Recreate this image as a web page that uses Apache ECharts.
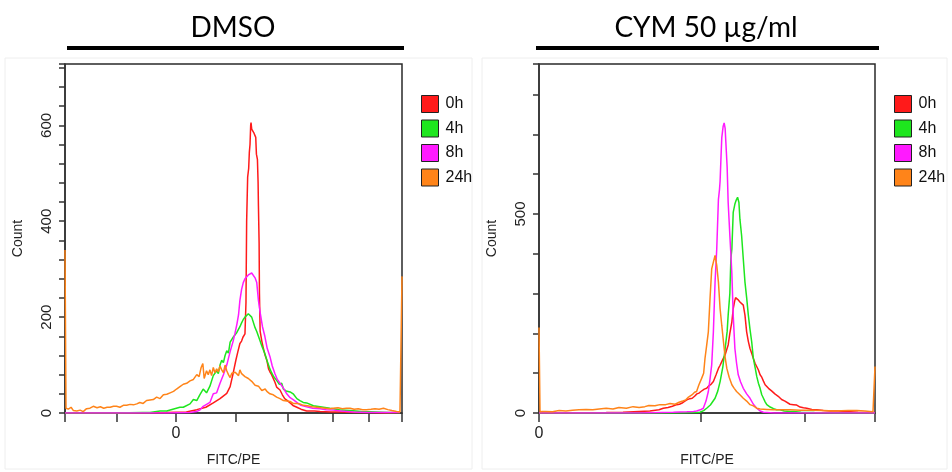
<!DOCTYPE html>
<html><head><meta charset="utf-8">
<script src="https://cdn.jsdelivr.net/npm/echarts@6/dist/echarts.min.js"></script>
<style>html,body{margin:0;padding:0;background:#fff}#c{width:952px;height:472px}</style>
</head><body><div id="c"></div><script>
const seriesNames = ['0h', '4h', '8h', '24h'];
const seriesColors = ['#ff1a1a', '#1ee61e', '#ff1aff', '#ff8419'];
const panelTitles = ['DMSO', 'CYM 50 µg/ml'];
const xAxisName = 'FITC/PE';
const yAxisName = 'Count';
const yMaxL = 728, yTickStepL = 40, yLabelStepL = 200;
const yMaxR = 877, yTickStepR = 100, yLabelStepR = 500;
const xTicksL = [0, 154, 329, 507, 662, 795, 902, 1000];
const xTicksR = [0, 482, 792, 1000];
const xZeroL = [329];
const xZeroR = [0];

// DMSO panel: [channel, count]
const dmso0h = [[0,0],[100,0],[200,0],[300,1],[360,2],[391,7],[418,12],[440,21],[460,30],[480,41],[490,55],[499,83],[507,110],[513,128],[519,145],[524,150],[528,158],[534,165],[537,230],[539,400],[542,492],[545,510],[547,544],[549,560],[551,600],[552,606],[554,592],[556,596],[560,585],[566,575],[568,540],[571,529],[573,480],[574,432],[576,354],[577,250],[579,171],[584,150],[588,137],[594,120],[599,110],[604,92],[608,86],[613,80],[618,76],[623,64],[628,54],[633,50],[638,48],[645,38],[652,30],[658,27],[663,23],[668,21],[678,15],[688,12],[700,8],[717,4],[740,4],[757,3],[790,2],[816,2],[860,1],[905,1],[950,0],[994,1]];
const dmso4h = [[0,0],[150,0],[230,1],[252,1],[282,4],[302,4],[320,8],[341,12],[351,12],[371,19],[381,28],[391,26],[400,38],[410,50],[420,42],[430,56],[440,78],[450,88],[455,82],[460,100],[465,110],[470,105],[475,120],[480,130],[485,125],[490,148],[495,152],[499,158],[504,160],[510,168],[515,172],[519,180],[524,188],[529,195],[534,200],[539,204],[544,207],[549,205],[554,200],[559,198],[564,178],[569,170],[574,160],[579,150],[584,140],[588,136],[594,122],[599,110],[604,100],[608,92],[613,84],[620,75],[628,68],[636,60],[643,62],[648,50],[656,46],[668,44],[677,40],[688,30],[697,26],[707,22],[717,21],[737,15],[757,13],[786,10],[796,9],[820,6],[846,5],[880,3],[920,2],[960,1],[994,1]];
const dmso8h = [[0,0],[300,0],[370,1],[390,3],[400,6],[410,14],[420,18],[430,22],[440,40],[450,42],[460,62],[470,80],[480,100],[490,128],[499,150],[504,165],[510,185],[515,205],[519,235],[524,258],[529,272],[534,280],[539,276],[544,288],[549,284],[554,292],[559,290],[564,282],[569,272],[574,235],[579,210],[586,180],[593,160],[600,135],[608,118],[615,98],[623,82],[630,70],[638,62],[648,52],[658,40],[668,32],[677,28],[688,22],[700,16],[717,13],[735,10],[757,9],[775,7],[796,6],[820,4],[855,2],[900,1],[994,1]];
const dmso24h = [[0,340],[3,10],[10,8],[18,12],[25,5],[35,4],[45,6],[54,3],[64,9],[74,10],[84,14],[95,11],[105,13],[115,10],[125,12],[134,12],[144,14],[153,14],[163,12],[173,16],[183,16],[193,18],[203,17],[213,19],[222,22],[232,20],[242,26],[252,27],[262,28],[272,33],[282,30],[292,38],[302,39],[312,42],[322,45],[331,50],[341,55],[351,60],[361,62],[371,67],[381,70],[391,80],[398,76],[404,95],[409,103],[413,72],[420,88],[425,80],[430,90],[435,78],[440,95],[445,84],[450,92],[455,86],[460,98],[465,90],[470,84],[475,100],[480,88],[485,80],[490,74],[495,83],[499,80],[505,85],[510,88],[515,78],[519,90],[524,82],[529,80],[534,76],[539,78],[544,72],[549,70],[554,66],[559,62],[564,58],[569,55],[574,56],[579,52],[584,47],[588,46],[594,50],[599,45],[604,42],[608,40],[613,42],[618,38],[623,35],[628,33],[633,31],[638,30],[643,28],[648,26],[658,25],[668,24],[677,20],[688,20],[697,19],[707,16],[720,15],[734,13],[747,12],[760,11],[773,10],[786,9],[796,10],[810,11],[823,9],[835,10],[846,10],[858,8],[870,9],[883,7],[895,7],[908,8],[920,9],[932,8],[945,10],[958,7],[970,5],[984,3],[994,2],[1000,285]];

// CYM 50 µg/ml panel: [channel, count]
const cym0h = [[0,0],[200,1],[250,2],[298,4],[330,5],[357,8],[370,12],[384,14],[397,17],[410,21],[418,22],[426,25],[433,29],[440,33],[449,36],[456,37],[463,42],[470,48],[476,50],[482,54],[486,58],[492,60],[499,62],[505,68],[512,72],[519,79],[527,96],[534,112],[539,120],[544,129],[549,138],[554,146],[559,160],[563,171],[568,200],[574,229],[578,262],[582,280],[585,290],[588,292],[592,285],[595,288],[598,279],[603,275],[608,271],[613,246],[618,204],[623,180],[628,162],[633,150],[638,137],[643,125],[648,121],[653,108],[658,96],[663,90],[668,80],[673,71],[678,68],[683,62],[688,62],[693,55],[697,52],[702,48],[707,44],[712,42],[717,40],[722,34],[727,29],[732,30],[737,26],[747,22],[757,21],[767,20],[777,15],[787,13],[797,12],[812,9],[827,8],[846,6],[866,5],[890,5],[916,4],[950,2],[980,1],[1000,1]];
const cym4h = [[0,0],[400,0],[470,1],[479,2],[490,6],[499,12],[510,20],[524,37],[532,55],[539,79],[547,115],[554,162],[560,205],[563,246],[568,300],[571,387],[574,412],[578,504],[583,525],[587,535],[591,542],[595,529],[598,487],[603,446],[608,387],[613,329],[618,290],[623,246],[628,210],[633,179],[638,137],[643,115],[648,92],[653,75],[658,62],[663,46],[668,37],[673,28],[678,21],[688,15],[698,11],[707,8],[717,8],[730,5],[747,4],[757,4],[780,2],[820,1],[880,0],[1000,0]];
const cym8h = [[0,0],[300,0],[400,2],[440,3],[460,4],[469,5],[480,8],[489,12],[497,30],[504,54],[509,85],[514,121],[519,204],[524,329],[529,412],[534,537],[537,560],[539,583],[542,650],[544,692],[548,720],[551,729],[554,715],[557,712],[560,617],[563,529],[566,480],[568,446],[571,400],[574,350],[578,246],[583,162],[588,125],[593,96],[600,78],[608,62],[618,48],[628,37],[638,22],[648,12],[658,5],[668,2],[700,0],[1000,0]];
const cym24h = [[0,215],[3,3],[10,4],[20,4],[40,3],[60,6],[80,5],[100,7],[119,8],[140,9],[160,8],[179,10],[200,12],[220,10],[238,14],[260,12],[280,16],[298,14],[315,16],[327,19],[345,18],[360,21],[377,21],[390,24],[405,22],[417,27],[428,30],[437,33],[445,40],[449,42],[456,46],[463,52],[469,54],[476,71],[484,87],[490,100],[494,137],[499,170],[504,204],[509,287],[514,362],[519,379],[524,396],[529,371],[534,329],[539,262],[544,220],[549,179],[554,140],[559,112],[566,90],[574,71],[581,62],[588,54],[598,46],[608,37],[618,30],[628,21],[638,18],[648,12],[658,10],[678,9],[697,8],[720,8],[747,8],[777,7],[810,7],[846,6],[880,5],[920,6],[946,6],[970,5],[985,4],[994,3],[1000,117]];

const panelData = [[dmso0h, dmso4h, dmso8h, dmso24h], [cym0h, cym4h, cym8h, cym24h]];

const chart = echarts.init(document.getElementById('c'), null, {renderer: 'canvas'});
const axisFont = 'Liberation Sans';

function xAxisCfg(gridIndex, ticks, zero) {
  return {
    type: 'value', gridIndex: gridIndex, min: 0, max: 1000,
    name: xAxisName, nameLocation: 'middle', nameGap: 40,
    nameTextStyle: {fontFamily: axisFont, fontSize: 14, color: '#222'},
    axisLine: {show: true, lineStyle: {color: '#333', width: 1.5}},
    axisTick: {show: true, length: 9, customValues: ticks, lineStyle: {color: '#333', width: 1.5}},
    axisLabel: {show: true, customValues: zero, formatter: () => '0', margin: 13,
      fontFamily: axisFont, fontSize: 16, color: '#222'},
    splitLine: {show: false}
  };
}
function yAxisCfg(gridIndex, max, step, labelStep) {
  return {
    type: 'value', gridIndex: gridIndex, min: 0, max: max, interval: step,
    name: yAxisName, nameLocation: 'middle', nameGap: 40, nameRotate: 90,
    nameTextStyle: {fontFamily: axisFont, fontSize: 14, color: '#222'},
    axisLine: {show: true, lineStyle: {color: '#333', width: 1.5}},
    axisTick: {show: true, length: 6, lineStyle: {color: '#333', width: 1.5}},
    axisLabel: {show: true, rotate: 90, margin: 11, fontFamily: axisFont, fontSize: 15, color: '#222',
      formatter: v => (v % labelStep === 0 ? String(v) : '')},
    splitLine: {show: false}
  };
}

const series = [];
panelData.forEach((sets, p) => {
  sets.forEach((d, i) => {
    series.push({
      type: 'line', name: seriesNames[i], xAxisIndex: p, yAxisIndex: p,
      data: d, showSymbol: false, symbol: 'none', smooth: false,
      lineStyle: {color: seriesColors[i], width: 1.5},
      itemStyle: {color: seriesColors[i]},
      emphasis: {disabled: true}, silent: true
    });
  });
});

function legendCfg(left) {
  return {
    show: true, orient: 'vertical', left: left, top: 95, padding: 0,
    itemWidth: 17, itemHeight: 17, itemGap: 6.5, icon: 'rect', selectedMode: false,
    data: seriesNames,
    itemStyle: {borderColor: '#222', borderWidth: 1},
    textStyle: {fontFamily: axisFont, fontSize: 16, color: '#111', padding: [0, 0, 0, 2]}
  };
}

const titleStyle = (txt, x) => ({
  type: 'text', x: x, y: 28,
  style: {text: txt, font: '28px Lato', fill: '#000', textAlign: 'center', textVerticalAlign: 'middle', align: 'center', verticalAlign: 'middle'}
});

chart.setOption({
  animation: false,
  backgroundColor: '#fff',
  grid: [
    {left: 65, top: 64, width: 337, height: 352, show: true, borderColor: '#2a2a2a', borderWidth: 1.5, backgroundColor: 'transparent'},
    {left: 539, top: 64, width: 336, height: 351, show: true, borderColor: '#2a2a2a', borderWidth: 1.5, backgroundColor: 'transparent'}
  ],
  xAxis: [xAxisCfg(0, xTicksL, xZeroL), xAxisCfg(1, xTicksR, xZeroR)],
  yAxis: [yAxisCfg(0, yMaxL, yTickStepL, yLabelStepL), yAxisCfg(1, yMaxR, yTickStepR, yLabelStepR)],
  legend: [legendCfg(421), legendCfg(894)],
  graphic: [
    {type: 'rect', silent: true, z: -10, shape: {x: 5, y: 58, width: 467, height: 411}, style: {fill: 'none', stroke: '#eeeeee', lineWidth: 1}},
    {type: 'rect', silent: true, z: -10, shape: {x: 482, y: 58, width: 465, height: 411}, style: {fill: 'none', stroke: '#eeeeee', lineWidth: 1}},
    titleStyle(panelTitles[0], 233),
    titleStyle(panelTitles[1], 706),
    {type: 'rect', silent: true, shape: {x: 67, y: 46, width: 337, height: 4}, style: {fill: '#000'}},
    {type: 'rect', silent: true, shape: {x: 536, y: 46, width: 343, height: 4}, style: {fill: '#000'}}
  ],
  series: series
});
</script></body></html>
